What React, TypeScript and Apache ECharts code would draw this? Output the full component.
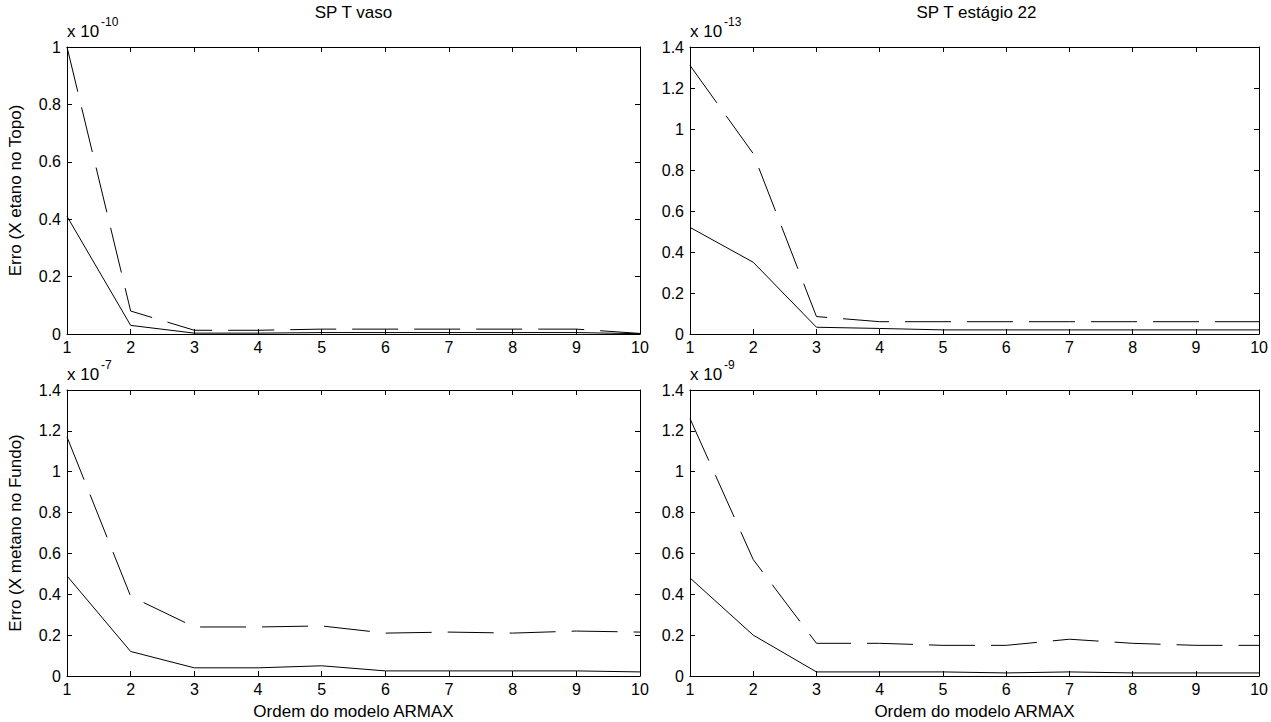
import React, { useEffect, useRef } from 'react';
import * as echarts from 'echarts';

const orders = [1, 2, 3, 4, 5, 6, 7, 8, 9, 10];
const xTicks = [1, 2, 3, 4, 5, 6, 7, 8, 9, 10];

const titles = ['SP T vaso', 'SP T estágio 22', '', ''];
const exponents = ['-10', '-13', '-7', '-9'];
const yMax = [1, 1.4, 1.4, 1.4];
const yNames = ['Erro (X etano no Topo)', '', 'Erro (X metano no Fundo)', ''];
const xNames = ['', '', 'Ordem do modelo ARMAX', 'Ordem do modelo ARMAX'];

// values in units of the axis multiplier (x 10^exp)
const vasoEtanoSolid = [0.41, 0.03, 0.003, 0.003, 0.005, 0.005, 0.005, 0.005, 0.005, 0.001];
const vasoEtanoDashed = [1.0, 0.08, 0.013, 0.013, 0.017, 0.017, 0.017, 0.017, 0.017, 0.002];
const estagioEtanoSolid = [0.52, 0.35, 0.033, 0.027, 0.02, 0.02, 0.02, 0.02, 0.02, 0.02];
const estagioEtanoDashed = [1.31, 0.88, 0.085, 0.06, 0.06, 0.06, 0.06, 0.06, 0.06, 0.06];
const vasoMetanoSolid = [0.49, 0.12, 0.04, 0.04, 0.05, 0.025, 0.025, 0.025, 0.025, 0.02];
const vasoMetanoDashed = [1.17, 0.39, 0.24, 0.24, 0.245, 0.21, 0.215, 0.21, 0.22, 0.215];
const estagioMetanoSolid = [0.48, 0.2, 0.02, 0.02, 0.02, 0.015, 0.02, 0.015, 0.015, 0.015];
const estagioMetanoDashed = [1.26, 0.57, 0.16, 0.16, 0.15, 0.15, 0.18, 0.16, 0.15, 0.15];

const solids = [vasoEtanoSolid, estagioEtanoSolid, vasoMetanoSolid, estagioMetanoSolid];
const dashes = [vasoEtanoDashed, estagioEtanoDashed, vasoMetanoDashed, estagioMetanoDashed];

const FONT = 'Liberation Sans, Arial, Helvetica, sans-serif';

const grids = [
  { left: 67, top: 47, width: 573, height: 287 },
  { left: 690, top: 47, width: 573, height: 287 },
  { left: 67, top: 390, width: 573, height: 286 },
  { left: 690, top: 390, width: 573, height: 286 },
];

export default function App() {
  const ref = useRef<HTMLDivElement>(null);
  useEffect(() => {
    document.body.style.margin = '0';
    if (!ref.current) return;
    const chart = echarts.init(ref.current, undefined, { renderer: 'svg' });
    const xAxis: any[] = [];
    const yAxis: any[] = [];
    const series: any[] = [];
    const graphic: any[] = [];
    grids.forEach((g, i) => {
      const lineStyle = { color: '#000', width: 1 };
      const tick = { show: true, inside: true, length: 5, lineStyle };
      xAxis.push({
        type: 'value', gridIndex: i, min: xTicks[0], max: xTicks[xTicks.length - 1], interval: 1,
        position: 'bottom',
        axisLine: { show: true, onZero: false, lineStyle },
        axisTick: tick,
        splitLine: { show: false },
        axisLabel: { color: '#000', fontSize: 16, fontFamily: FONT, margin: 5 },
        name: xNames[i], nameLocation: 'middle', nameGap: 27,
        nameTextStyle: { color: '#000', fontSize: 17, fontFamily: FONT },
      });
      xAxis.push({
        type: 'value', gridIndex: i, min: xTicks[0], max: xTicks[xTicks.length - 1], interval: 1,
        position: 'top',
        axisLine: { show: true, onZero: false, lineStyle },
        axisTick: tick,
        splitLine: { show: false },
        axisLabel: { show: false },
      });
      yAxis.push({
        type: 'value', gridIndex: i, min: 0, max: yMax[i], interval: 0.2,
        position: 'left',
        axisLine: { show: true, onZero: false, lineStyle },
        axisTick: tick,
        splitLine: { show: false },
        axisLabel: { color: '#000', fontSize: 16, fontFamily: FONT, margin: 6 },
        name: yNames[i], nameLocation: 'middle', nameGap: 43,
        nameTextStyle: { color: '#000', fontSize: 17, fontFamily: FONT },
      });
      yAxis.push({
        type: 'value', gridIndex: i, min: 0, max: yMax[i], interval: 0.2,
        position: 'right',
        axisLine: { show: true, onZero: false, lineStyle },
        axisTick: tick,
        splitLine: { show: false },
        axisLabel: { show: false },
      });
      series.push({
        type: 'line', xAxisIndex: 2 * i, yAxisIndex: 2 * i,
        data: orders.map((x, k) => [x, solids[i][k]]),
        showSymbol: false, symbol: 'none',
        lineStyle: { color: '#000', width: 1, type: 'solid' },
      });
      series.push({
        type: 'line', xAxisIndex: 2 * i, yAxisIndex: 2 * i,
        data: orders.map((x, k) => [x, dashes[i][k]]),
        showSymbol: false, symbol: 'none',
        lineStyle: { color: '#000', width: 1, type: [46, 16] },
      });
      if (titles[i]) {
        graphic.push({
          type: 'text', x: g.left + g.width / 2, y: 12,
          style: { text: titles[i], fill: '#000', font: `17px ${FONT}`, textAlign: 'center', textVerticalAlign: 'middle' },
        });
      }
      graphic.push({
        type: 'text', x: g.left, y: g.top - 16,
        style: { text: 'x 10', fill: '#000', font: `17px ${FONT}`, textAlign: 'left', textVerticalAlign: 'middle' },
      });
      graphic.push({
        type: 'text', x: g.left + 34, y: g.top - 25,
        style: { text: exponents[i], fill: '#000', font: `12px ${FONT}`, textAlign: 'left', textVerticalAlign: 'middle' },
      });
    });
    chart.setOption({
      animation: false,
      backgroundColor: '#fff',
      grid: grids.map((g) => ({ ...g, show: false, containLabel: false })),
      xAxis,
      yAxis,
      series,
      graphic,
    });
    return () => chart.dispose();
  }, []);
  return <div ref={ref} style={{ width: 1271, height: 722 }} />;
}
